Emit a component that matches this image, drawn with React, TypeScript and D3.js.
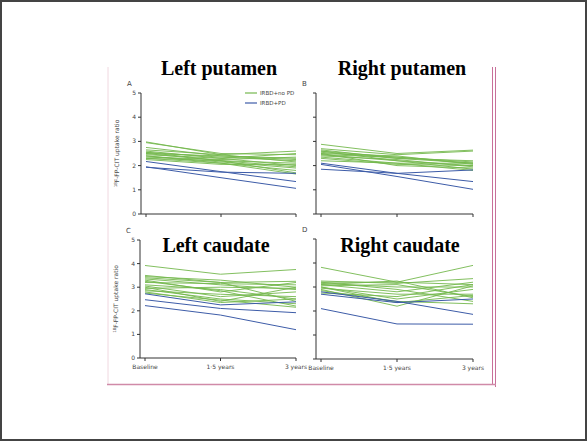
import React from 'react';
import * as d3 from 'd3';

const timepoints = ['Baseline', '1·5 years', '3 years'];
const yTicks = [0, 1, 2, 3, 4, 5];

// values per subject: [baseline, 1.5 years, 3 years]
const leftPutamenNoPD = [
  [2.98, 2.45, 2.6], [2.95, 2.5, 2.45], [2.75, 2.4, 2.3], [2.6, 2.3, 2.5],
  [2.55, 2.35, 2.2], [2.5, 2.2, 2.1], [2.45, 2.3, 2.0], [2.4, 2.15, 1.9],
  [2.35, 2.25, 2.35], [2.3, 2.1, 1.8], [2.55, 2.2, 1.7], [2.25, 2.05, 2.05],
  [2.65, 2.45, 2.15], [2.4, 2.1, 1.65], [2.5, 2.4, 2.25], [2.3, 2.2, 1.95],
];
const leftPutamenPD = [[2.17, 1.75, 1.34], [1.95, 1.5, 1.06], [1.93, 1.73, 1.68]];

const rightPutamenNoPD = [
  [2.88, 2.5, 2.64], [2.7, 2.45, 2.6], [2.6, 2.35, 2.15], [2.55, 2.3, 2.1],
  [2.5, 2.4, 2.05], [2.45, 2.2, 2.0], [2.4, 2.25, 1.95], [2.35, 2.1, 2.1],
  [2.6, 2.2, 1.85], [2.3, 2.05, 2.0], [2.5, 2.0, 1.9], [2.65, 2.3, 2.2],
  [2.2, 2.1, 1.8], [2.45, 2.35, 2.1],
];
const rightPutamenPD = [[2.1, 1.68, 1.34], [1.85, 1.68, 1.82], [2.05, 1.55, 1.02]];

const leftCaudateNoPD = [
  [3.92, 3.55, 3.75], [3.5, 3.2, 3.25], [3.45, 3.3, 3.0], [3.35, 3.1, 2.9],
  [3.3, 2.8, 3.2], [3.2, 3.15, 3.1], [3.1, 2.9, 2.5], [3.05, 2.6, 2.8],
  [3.0, 2.4, 3.0], [2.95, 3.0, 2.95], [2.9, 2.5, 2.3], [2.85, 2.7, 2.6],
  [2.8, 2.35, 2.5], [3.25, 2.85, 2.2], [2.75, 2.45, 2.15], [3.4, 3.2, 2.4],
];
const leftCaudatePD = [[2.72, 2.25, 2.38], [2.47, 2.1, 1.92], [2.22, 1.82, 1.2]];

const rightCaudateNoPD = [
  [3.82, 3.2, 3.9], [3.25, 3.15, 3.35], [3.2, 3.2, 3.1], [3.15, 3.0, 3.0],
  [3.1, 2.8, 3.2], [3.05, 3.1, 2.6], [3.0, 2.5, 2.9], [2.95, 2.7, 2.7],
  [2.9, 2.2, 3.05], [3.2, 2.9, 2.4], [2.85, 2.4, 2.3], [3.1, 3.25, 2.55],
  [2.75, 2.6, 3.1], [3.0, 2.35, 2.65],
];
const rightCaudatePD = [[2.8, 2.4, 1.86], [2.1, 1.46, 1.45], [2.7, 2.35, 2.5]];

const GREEN = '#74b84e';
const BLUE = '#3d5ca8';
const AXIS = '#333';

const panels = [
  { letter: 'A', title: 'Left putamen', noPD: leftPutamenNoPD, pd: leftPutamenPD,
    x0: 146, x1: 296, y0: 214, y1: 93, labels: true, legend: true, xLabels: false, titleX: 219, titleY: 75 },
  { letter: 'B', title: 'Right putamen', noPD: rightPutamenNoPD, pd: rightPutamenPD,
    x0: 321, x1: 473, y0: 214, y1: 93, labels: false, legend: false, xLabels: false, titleX: 402, titleY: 75 },
  { letter: 'C', title: 'Left caudate', noPD: leftCaudateNoPD, pd: leftCaudatePD,
    x0: 145, x1: 296, y0: 358, y1: 240, labels: true, legend: false, xLabels: true, titleX: 216, titleY: 252 },
  { letter: 'D', title: 'Right caudate', noPD: rightCaudateNoPD, pd: rightCaudatePD,
    x0: 321, x1: 473, y0: 359, y1: 239, labels: false, legend: false, xLabels: true, titleX: 400, titleY: 252 },
];

const Panel = ({ p }: { p: any }) => {
  const x = d3.scalePoint<string>().domain(timepoints).range([p.x0, p.x1]);
  const y = d3.scaleLinear().domain([0, 5]).range([p.y0, p.y1]);
  const line = d3.line<number>().x((_, i) => x(timepoints[i])!).y(d => y(d));
  const axisX = p.x0 - 5;
  return (
    <g>
      {p.noPD.map((d: number[], i: number) => (
        <path key={'g' + i} d={line(d)!} fill="none" stroke={GREEN} strokeWidth={1} opacity={0.9} />
      ))}
      {p.pd.map((d: number[], i: number) => (
        <path key={'b' + i} d={line(d)!} fill="none" stroke={BLUE} strokeWidth={1} />
      ))}
      <line x1={axisX} x2={axisX} y1={y(5)} y2={y(0)} stroke={AXIS} strokeWidth={1} />
      <line x1={axisX} x2={p.x1} y1={y(0)} y2={y(0)} stroke={AXIS} strokeWidth={1} />
      {yTicks.map(t => (
        <g key={t}>
          <line x1={axisX - 3} x2={axisX} y1={y(t)} y2={y(t)} stroke={AXIS} />
          {p.labels && (
            <text x={axisX - 5} y={y(t) + 2} fontSize={6} textAnchor="end" fill="#444"
              fontFamily="DejaVu Sans, sans-serif">{t}</text>
          )}
        </g>
      ))}
      {timepoints.map(t => (
        <g key={t}>
          <line x1={x(t)} x2={x(t)} y1={y(0)} y2={y(0) + 3} stroke={AXIS} />
          {p.xLabels && (
            <text x={x(t)} y={y(0) + 11} fontSize={6} textAnchor="middle" fill="#444"
              fontFamily="DejaVu Sans, sans-serif">{t}</text>
          )}
        </g>
      ))}
      <text x={axisX - 14} y={y(5) - 7} fontSize={7} fill="#444" fontFamily="DejaVu Sans, sans-serif">{p.letter}</text>
      {p.labels && (
        <text transform={`translate(${axisX - 22},${(y(0) + y(5)) / 2}) rotate(-90)`} fontSize={6}
          textAnchor="middle" fill="#444" fontFamily="DejaVu Sans, sans-serif">
          <tspan fontSize={4} dy={-2}>18</tspan><tspan dy={2}>F-FP-CIT uptake ratio</tspan>
        </text>
      )}
      {p.legend && (
        <g fontFamily="DejaVu Sans, sans-serif" fontSize={5.5} fill="#444">
          <line x1={245} x2={257} y1={93} y2={93} stroke={GREEN} strokeWidth={1.2} />
          <text x={260} y={95}>IRBD+no PD</text>
          <line x1={245} x2={257} y1={103} y2={103} stroke={BLUE} strokeWidth={1.2} />
          <text x={260} y={105}>IRBD+PD</text>
        </g>
      )}
      <text x={p.titleX} y={p.titleY} fontSize={20} fontWeight="bold" textAnchor="middle"
        fontFamily="Liberation Serif, Times New Roman, serif" fill="#000">{p.title}</text>
    </g>
  );
};

export default function App() {
  return (
    <svg width={587} height={441} style={{ position: 'absolute', left: 0, top: 0 }}>
      <rect x={0} y={0} width={587} height={441} fill="#fff" />
      <rect x={1} y={1} width={585} height={439} fill="none" stroke="#444" strokeWidth={2} />
      {/* pink frame of the figure */}
      <line x1={108} x2={108} y1={67} y2={385} stroke="#f0d8e0" strokeWidth={1} />
      <line x1={492.5} x2={492.5} y1={67} y2={385} stroke="#c8709a" strokeWidth={1} />
      <line x1={495.5} x2={495.5} y1={67} y2={387} stroke="#c8709a" strokeWidth={1} />
      <line x1={107} x2={496} y1={384.5} y2={384.5} stroke="#d08aa8" strokeWidth={1.5} />
      {panels.map(p => <Panel key={p.letter} p={p} />)}
    </svg>
  );
}
